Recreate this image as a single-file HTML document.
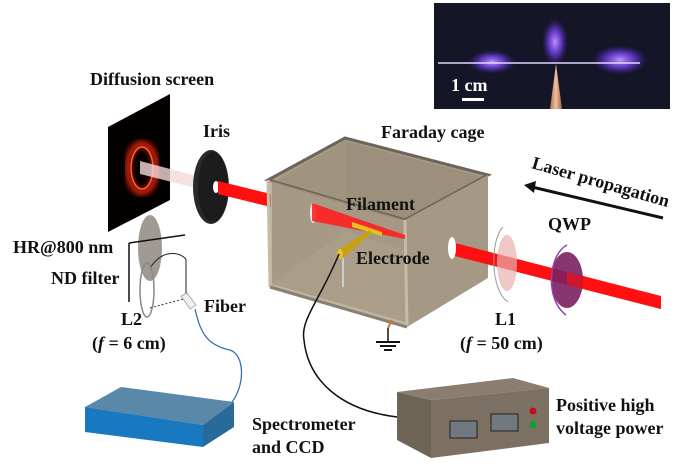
<!DOCTYPE html>
<html><head><meta charset="utf-8"><style>
html,body{margin:0;padding:0;background:#fff;}
svg{display:block}
text{font-family:"Liberation Serif",serif;font-weight:bold;font-size:18px;fill:#111}
</style></head><body>
<svg width="693" height="471" viewBox="0 0 693 471" xmlns="http://www.w3.org/2000/svg">
<defs>
<radialGradient id="blob" cx="0.5" cy="0.5" r="0.5"><stop offset="0" stop-color="#c090ff"/><stop offset="0.5" stop-color="#7040e0" stop-opacity="0.8"/><stop offset="1" stop-color="#4020a0" stop-opacity="0"/></radialGradient>
<linearGradient id="tip" x1="0" x2="1"><stop offset="0" stop-color="#b07050"/><stop offset="0.5" stop-color="#f0c0a0"/><stop offset="1" stop-color="#a06040"/></linearGradient>
<filter id="bl"><feGaussianBlur stdDeviation="3"/></filter>
</defs>
<rect x="434" y="3" width="236" height="106" fill="#141527"/>
<ellipse cx="492" cy="62" rx="24" ry="12" fill="url(#blob)"/>
<ellipse cx="555" cy="42" rx="13" ry="24" fill="url(#blob)"/>
<ellipse cx="620" cy="60" rx="28" ry="15" fill="url(#blob)"/>
<line x1="438" y1="63" x2="640" y2="63" stroke="#e0d8ff" stroke-width="1.5"/>
<polygon points="550,109 556,64 562,109" fill="url(#tip)"/>
<text x="451" y="91" style="fill:#fff">1 cm</text>
<rect x="462" y="98" width="22" height="3" fill="#fff"/>
<text x="90" y="85">Diffusion screen</text>
<polygon points="108,127 170,94 170,200 108,232" fill="#050000"/>
<ellipse cx="142" cy="168" rx="14" ry="24" fill="none" stroke="#e02010" stroke-width="6" filter="url(#bl)"/>
<ellipse cx="142" cy="168" rx="11" ry="21" fill="none" stroke="#ff6030" stroke-width="1.5"/>
<polygon points="140,161 212,180 212,192 140,174" fill="#f4d8d8" opacity="0.8"/>
<text x="203" y="137">Iris</text>
<ellipse cx="211" cy="187" rx="18" ry="37" fill="#2a2a2a"/>
<ellipse cx="213" cy="187" rx="15" ry="35" fill="#1c1c1c"/>
<ellipse cx="216" cy="187" rx="3" ry="6" fill="#fff"/>
<polygon points="218,181 271,194 271,207 218,194" fill="#ff1010"/>
<text x="381" y="138">Faraday cage</text>
<polygon points="268,180 345,138 488,175 405,220" fill="#a89c88"/>
<polygon points="272,183 345,141 345,232 272,284" fill="#a0947f"/>
<polygon points="345,141 484,177 484,275 345,232" fill="#9c907c"/>
<polygon points="272,284 345,232 484,275 405,322" fill="#b0a590"/>
<polygon points="268,180 345,138 488,175 405,220" fill="none" stroke="#6e655a" stroke-width="3"/>
<polygon points="268,180 405,220 407,327 270,287" fill="#a89c87" opacity="0.75"/>
<polygon points="405,220 488,175 488,278 407,327" fill="#a59985"/>
<line x1="268" y1="180" x2="270" y2="287" stroke="#c8bca8" stroke-width="3"/>
<line x1="405" y1="220" x2="407" y2="327" stroke="#c8bca8" stroke-width="3"/>
<line x1="270" y1="287" x2="407" y2="327" stroke="#8a7f70" stroke-width="3"/>
<ellipse cx="313" cy="213" rx="3" ry="10" fill="#eee"/>
<polygon points="312,203 405,235 405,239 312,221" fill="#ff2020" opacity="0.9"/>
<polygon points="352,222 382,232 382,236 352,227" fill="#e8c020"/>
<text x="346" y="210">Filament</text>
<text x="356" y="264">Electrode</text>
<polygon points="338,250 370,230 372,233 343,258" fill="#c8a018"/>
<ellipse cx="340" cy="254" rx="3" ry="5" fill="#e8c030"/>
<line x1="343" y1="258" x2="343" y2="287" stroke="#ccd" stroke-width="2"/>
<path d="M339,254 C320,300 300,320 304,340 C308,380 340,410 397,417" fill="none" stroke="#111" stroke-width="1.5"/>
<line x1="392" y1="320" x2="388" y2="328" stroke="#e07020" stroke-width="2"/>
<line x1="388" y1="328" x2="388" y2="342" stroke="#111" stroke-width="1.5"/>
<line x1="376" y1="342" x2="400" y2="342" stroke="#111" stroke-width="2"/>
<line x1="380" y1="346" x2="396" y2="346" stroke="#111" stroke-width="2"/>
<line x1="384" y1="350" x2="392" y2="350" stroke="#111" stroke-width="2"/>
<polygon points="451,242 661,296 661,309 451,255" fill="#ff1010"/>
<ellipse cx="452" cy="248" rx="4" ry="11" fill="#fff"/>
<ellipse cx="507" cy="263" rx="10" ry="28" fill="#e8b0b0" opacity="0.7"/>
<path d="M503,227 C490,240 490,290 508,302" fill="none" stroke="#999" stroke-width="1"/>
<ellipse cx="567" cy="280" rx="16" ry="28" fill="#7a2060" opacity="0.9"/>
<path d="M567,245 C548,255 545,300 566,315" fill="none" stroke="#9040b0" stroke-width="1.5"/>
<polygon points="567,272 661,298 661,309 567,285" fill="#ff1010" opacity="0.6"/>
<text x="548" y="230">QWP</text>
<text transform="translate(531,168) rotate(16)">Laser propagation</text>
<line x1="663" y1="218" x2="532" y2="187" stroke="#111" stroke-width="3"/>
<polygon points="524,185 536,181 534,193" fill="#111"/>
<text x="495" y="325">L1</text>
<text x="460" y="349">(<tspan font-style="italic">f</tspan> = 50 cm)</text>
<ellipse cx="150" cy="248" rx="12" ry="33" fill="#a09a94"/>
<path d="M150,268 C165,245 185,255 186,260 L186,300" fill="none" stroke="#222" stroke-width="1"/>
<ellipse cx="147" cy="290" rx="7" ry="27" fill="none" stroke="#888" stroke-width="1.5"/>
<line x1="129" y1="243" x2="185" y2="235" stroke="#111" stroke-width="1.5"/>
<line x1="129" y1="243" x2="129" y2="302" stroke="#111" stroke-width="1.5"/>
<line x1="150" y1="308" x2="187" y2="298" stroke="#333" stroke-width="1" stroke-dasharray="2,2"/>
<polygon points="181,296 187,293 196,305 190,309" fill="#eee" stroke="#999" stroke-width="0.7"/>
<path d="M195,309 C200,330 205,345 230,350 C245,355 245,385 232,402" fill="none" stroke="#3a70b0" stroke-width="1.3"/>
<text x="13" y="253">HR@800 nm</text>
<text x="51" y="284">ND filter</text>
<text x="204" y="312">Fiber</text>
<text x="121" y="325">L2</text>
<text x="92" y="349">(<tspan font-style="italic">f</tspan> = 6 cm)</text>
<polygon points="85,407 121,387 234,402 203,425" fill="#5a88a8"/>
<polygon points="85,407 203,425 203,447 85,432" fill="#1878c0"/>
<polygon points="203,425 234,402 234,427 203,447" fill="#2a6a98"/>
<text x="252" y="430">Spectrometer</text>
<text x="252" y="453">and CCD</text>
<polygon points="397,392 513,378 549,388 431,400" fill="#8a7e70"/>
<polygon points="397,392 431,400 431,458 397,440" fill="#6e6456"/>
<polygon points="431,400 549,388 549,443 431,458" fill="#7c7062"/>
<rect x="450" y="421" width="27" height="17" fill="#707880" stroke="#222"/>
<rect x="491" y="414" width="27" height="17" fill="#707880" stroke="#222"/>
<circle cx="533" cy="411" r="3.5" fill="#c01010"/>
<circle cx="533" cy="425" r="3.5" fill="#10a030"/>
<text x="556" y="411">Positive high</text>
<text x="556" y="434">voltage power</text>
</svg>
</body></html>
